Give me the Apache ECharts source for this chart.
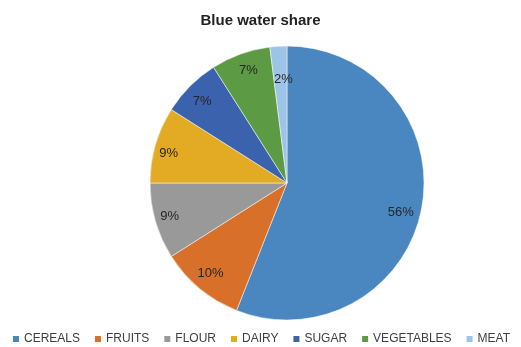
<!DOCTYPE html>
<html>
<head>
<meta charset="utf-8">
<script src="https://cdn.jsdelivr.net/npm/echarts@6/dist/echarts.min.js"></script>
<style>html,body{margin:0;padding:0;background:#fff}#c{width:521px;height:347px}</style>
</head>
<body>
<div id="c"></div>
<script>
const categories = ['CEREALS', 'FRUITS', 'FLOUR', 'DAIRY', 'SUGAR', 'VEGETABLES', 'MEAT'];
const shares = [56, 10, 9, 9, 7, 7, 2];
const colors = ['#4a86c0', '#d8702a', '#999999', '#e3aa23', '#3a62ad', '#5c9b44', '#9dc3e6'];
const labelNudges = [[-4, 7], [0, -2], [-2, 0], [-3, 4], [0, 3], [2, 0], [4, 16]];

const data = categories.map((n, i) => ({ name: n, value: shares[i], itemStyle: { color: colors[i] } }));
const chart = echarts.init(document.getElementById('c'));
chart.setOption({
  animation: false,
  title: {
    text: 'Blue water share', left: 'center', top: 8,
    textStyle: { fontFamily: 'Liberation Sans', fontWeight: 'bold', fontSize: 15, color: '#222' }
  },
  legend: {
    data: categories, left: 'center', top: 333, padding: 0, itemWidth: 8, itemHeight: 8, itemGap: 13,
    icon: 'rect',
    textStyle: { fontFamily: 'Liberation Sans', fontSize: 12, color: '#404040', padding: [0, 0, 0, -1] }
  },
  series: [
    {
      type: 'pie', center: [287, 183], radius: [0, 137], startAngle: 90, clockwise: true,
      data: data, label: { show: false }, labelLine: { show: false },
      itemStyle: { borderColor: '#fff', borderWidth: 0.5 }, emphasis: { disabled: true }
    },
    {
      type: 'pie', center: [287, 183], radius: [97, 137], startAngle: 90, clockwise: true,
      data: categories.map((n, i) => ({ name: n, value: shares[i], label: { offset: labelNudges[i] } })),
      itemStyle: { color: 'rgba(0,0,0,0)' }, silent: true, legendHoverLink: false,
      label: { show: true, position: 'inside', formatter: '{c}%', fontFamily: 'Liberation Sans', fontSize: 13, color: '#262626' },
      labelLine: { show: false }, emphasis: { disabled: true }
    }
  ]
});
</script>
</body>
</html>
